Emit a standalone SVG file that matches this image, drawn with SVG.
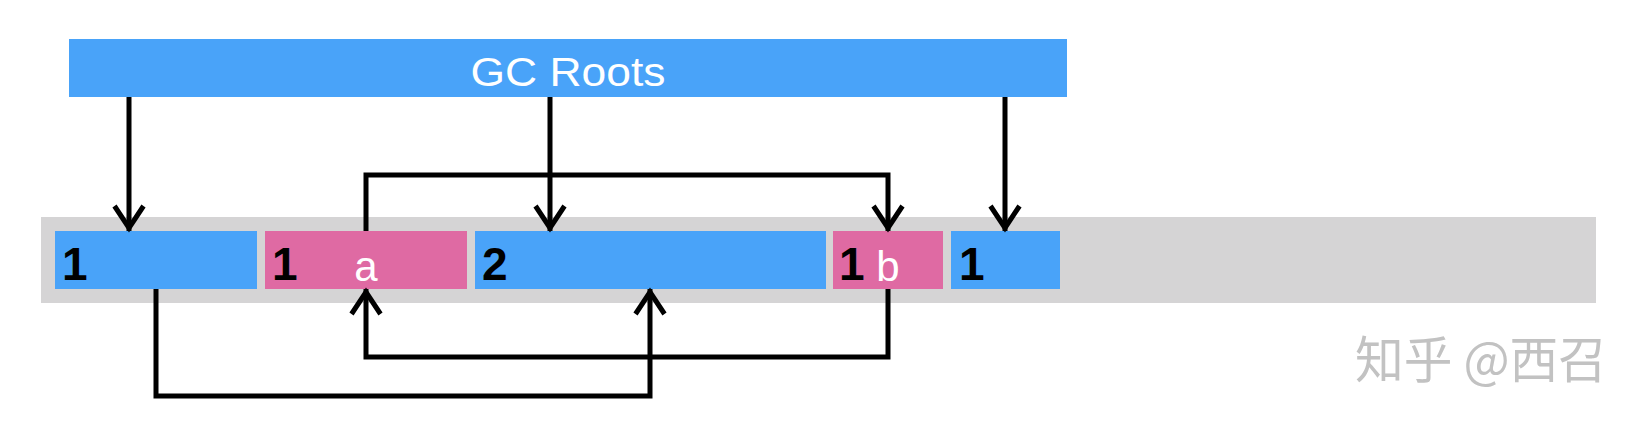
<svg xmlns="http://www.w3.org/2000/svg" width="1652" height="426" viewBox="0 0 1652 426">
<style>
.blue{fill:#49A3F9}
.pink{fill:#DF6AA3}
.num{font-family:"Liberation Sans",Arial,sans-serif;font-weight:bold;font-size:46px;fill:#000}
.let{font-family:"Liberation Sans",Arial,sans-serif;font-size:42px;fill:#fff}
.conn{fill:none;stroke:#000;stroke-width:5;stroke-linejoin:miter}
</style>
<defs>
<marker id="arr" markerUnits="userSpaceOnUse" markerWidth="40" markerHeight="40" viewBox="-30 -20 40 40" refX="0" refY="0" orient="auto" overflow="visible">
<path d="M-25,-14.5 L-3,0 L-25,14.5" fill="none" stroke="#000" stroke-width="5"/>
</marker>
</defs>
<rect width="1652" height="426" fill="#fff"/>
<rect id="heap" x="41" y="217" width="1555" height="86" fill="#D5D4D5"/>
<g id="gc-roots">
<rect class="blue" x="69" y="39" width="998" height="58"/>
<text x="568" y="86" text-anchor="middle" font-family="'Liberation Sans',Arial,sans-serif" font-size="41" fill="#fff" textLength="195" lengthAdjust="spacingAndGlyphs">GC Roots</text>
</g>
<g id="obj1">
<rect class="blue" x="55" y="231" width="202" height="58"/>
<text class="num" x="62" y="280">1</text>
</g>
<g id="obj-a">
<rect class="pink" x="265" y="231" width="202" height="58"/>
<text class="num" x="272" y="280">1</text>
<text class="let" x="366" y="281" text-anchor="middle">a</text>
</g>
<g id="obj2">
<rect class="blue" x="475" y="231" width="351" height="58"/>
<text class="num" x="482" y="280">2</text>
</g>
<g id="obj-b">
<rect class="pink" x="833" y="231" width="110" height="58"/>
<text class="num" x="839" y="280">1</text>
<text class="let" x="888" y="281" text-anchor="middle">b</text>
</g>
<g id="obj5">
<rect class="blue" x="951" y="231" width="109" height="58"/>
<text class="num" x="959" y="280">1</text>
</g>
<g id="connectors">
<path class="conn" d="M129,97 V231" marker-end="url(#arr)"/>
<path class="conn" d="M550,97 V231" marker-end="url(#arr)"/>
<path class="conn" d="M1005,97 V231" marker-end="url(#arr)"/>
<path class="conn" d="M366,231 V175 H888 V231" marker-end="url(#arr)"/>
<path class="conn" d="M156,289 V396 H650 V289" marker-end="url(#arr)"/>
<path class="conn" d="M888,289 V357 H366 V289" marker-end="url(#arr)"/>
</g>
<text id="watermark" x="1355" y="378" font-family="'Noto Sans CJK SC',sans-serif" font-size="50" fill="#C2C2C2" textLength="252" lengthAdjust="spacingAndGlyphs">知乎 @西召</text>
</svg>
